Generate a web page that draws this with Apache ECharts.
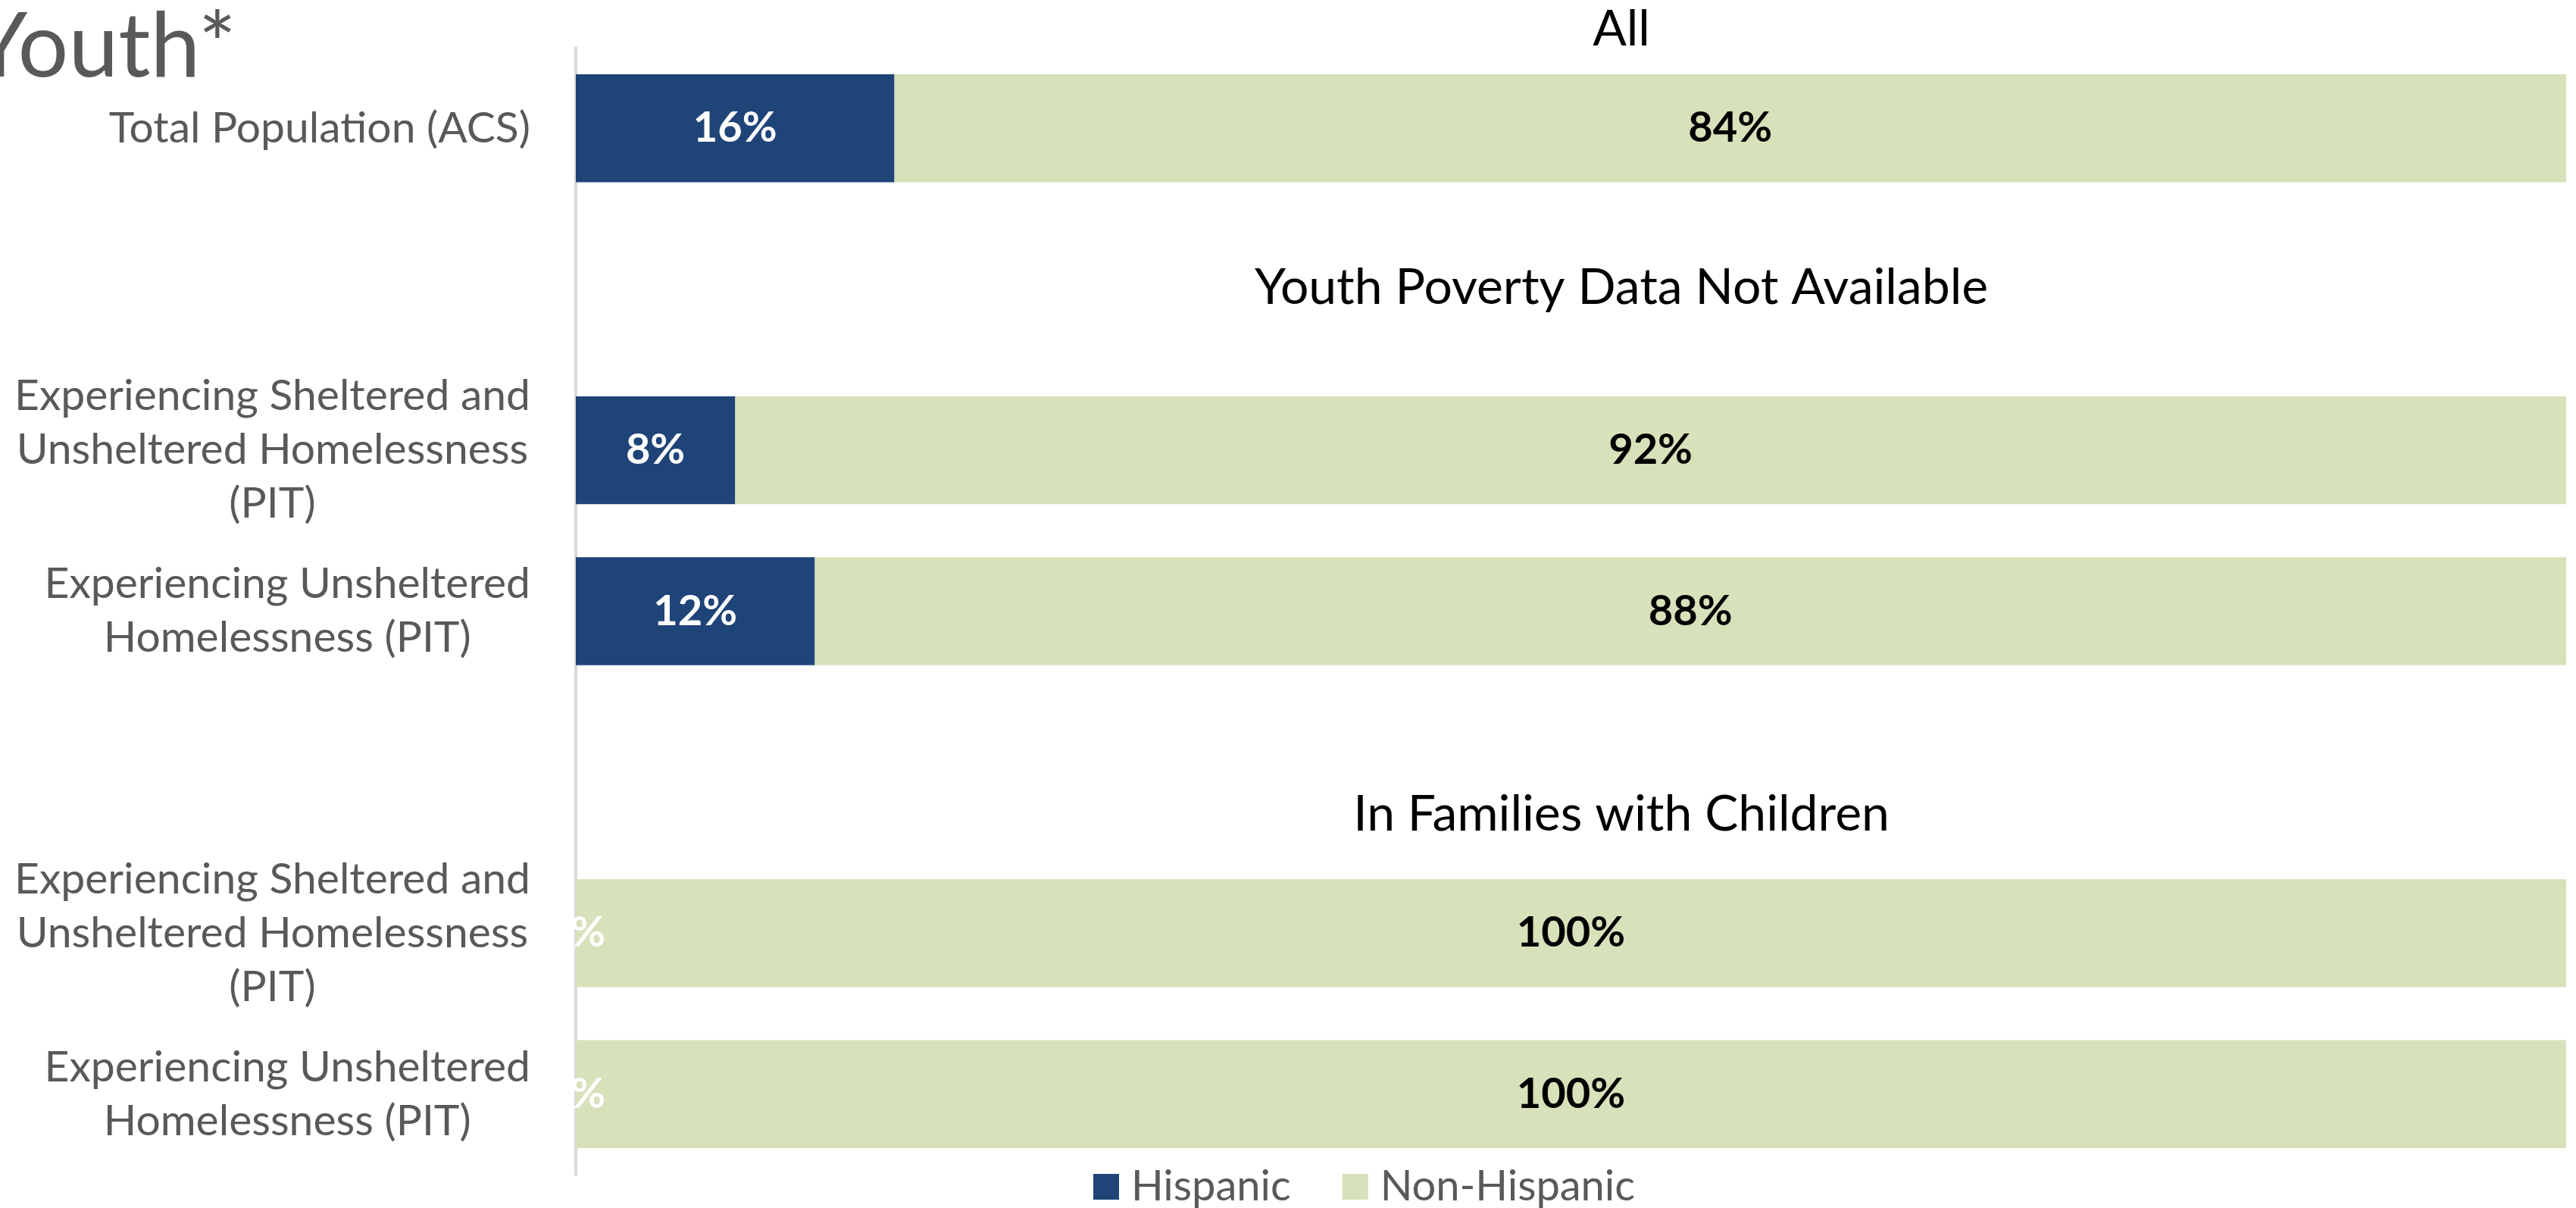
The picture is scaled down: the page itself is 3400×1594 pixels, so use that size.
<!DOCTYPE html>
<html>
<head>
<meta charset="utf-8">
<script src="https://cdn.jsdelivr.net/npm/echarts@6/dist/echarts.min.js"></script>
<style>
  html, body { margin: 0; padding: 0; background: #fff; }
  #chart { width: 3400px; height: 1594px; }
</style>
</head>
<body>
<div id="chart"></div>
<script>
// rows top to bottom; '' rows are the gaps holding a group heading
var categories = [
  'Total Population (ACS)',
  '',
  'Experiencing Sheltered and\nUnsheltered Homelessness\n(PIT)',
  'Experiencing Unsheltered\nHomelessness (PIT)',
  '',
  'Experiencing Sheltered and\nUnsheltered Homelessness\n(PIT)',
  'Experiencing Unsheltered\nHomelessness (PIT)'
];
var hispanic = [16, '-', 8, 12, '-', 0, 0];
var nonHispanic = [84, '-', 92, 88, '-', 100, 100];
var headings = ['All', 'Youth Poverty Data Not Available', 'In Families with Children'];
var headingY = [39, 380, 1075];

(function() {
  var font = 'Lato, "Open Sans", sans-serif';
  var navy = '#1f4478';
  var green = '#d7e1ba';
  var grey = '#595959';

  var chart = echarts.init(document.getElementById('chart'), null, { renderer: 'canvas' });

  var graphics = [{
    type: 'text',
    x: 312, y: 122,
    style: { text: 'Youth*', font: '118px ' + font, fill: grey, textAlign: 'right', textVerticalAlign: 'bottom' }
  }];
  headings.forEach(function(h, i) {
    graphics.push({
      type: 'text',
      x: 2140, y: headingY[i],
      style: { text: h, font: '66px ' + font, fill: '#000', textAlign: 'center', textVerticalAlign: 'middle' }
    });
  });

  chart.setOption({
    animation: false,
    graphic: graphics,
    grid: { left: 760, right: 13, top: 63, bottom: 44, containLabel: false },
    legend: {
      data: ['Hispanic', 'Non-Hispanic'],
      left: 1438, top: 1533,
      icon: 'rect', itemWidth: 34, itemHeight: 34, itemGap: 68,
      textStyle: { color: grey, fontSize: 56, fontFamily: font, padding: [0, 0, 0, 11] }
    },
    xAxis: { type: 'value', min: 0, max: 100, show: false },
    yAxis: {
      type: 'category',
      inverse: true,
      data: categories,
      axisLine: { show: true, lineStyle: { color: '#d9d9d9', width: 4 } },
      axisTick: { show: false },
      splitLine: { show: false },
      axisLabel: {
        margin: 60,
        color: grey,
        fontSize: 57,
        fontFamily: font,
        formatter: function(v) {
          if (!v) return '';
          return v.split('\n').map(function(l) { return '{c|' + l + '}'; }).join('\n');
        },
        rich: { c: { align: 'center', color: grey, fontSize: 57, fontFamily: font, lineHeight: 71 } }
      }
    },
    series: [{
      name: 'Hispanic',
      type: 'bar',
      stack: 'all',
      z: 3,
      barCategoryGap: '33%',
      data: hispanic,
      itemStyle: { color: navy },
      label: {
        show: true, position: 'inside', color: '#fff', fontWeight: 'bold',
        fontSize: 56, fontFamily: font,
        formatter: function(p) { return p.value + '%'; }
      }
    }, {
      name: 'Non-Hispanic',
      type: 'bar',
      stack: 'all',
      barCategoryGap: '33%',
      data: nonHispanic,
      itemStyle: { color: green },
      label: {
        show: true, position: 'inside', color: '#000', fontWeight: 'bold',
        fontSize: 56, fontFamily: font,
        formatter: function(p) { return p.value + '%'; }
      }
    }]
  });
  window.addEventListener('resize', function() { chart.resize(); });
})();
</script>
</body>
</html>
